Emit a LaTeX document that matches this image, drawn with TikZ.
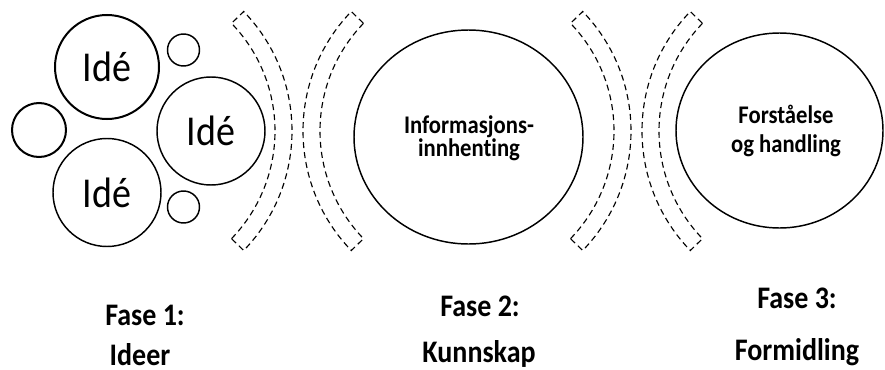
\documentclass[tikz,border=0pt]{standalone}
\usepackage{fontspec}
\setmainfont{Carlito}[Ligatures=NoCommon]
\usetikzlibrary{shapes.geometric}
\newcommand\tall[1]{\scalebox{1}[1.12]{#1}}
\tikzset{
  idea/.style={circle,draw,line width=1.1pt,minimum size=81pt,inner sep=0pt,font=\fontsize{28.5}{30}\selectfont},
  bubble/.style={circle,draw,line width=1.1pt,inner sep=0pt},
  phase/.style={ellipse,draw,line width=1.1pt,inner sep=0pt},
  phasetext/.style={align=center,inner sep=0pt,font=\fontsize{17}{#1}\selectfont\bfseries},
  bandline/.style={line width=0.85pt,dash pattern=on 4.5pt off 3pt},
  lbl/.style={anchor=base,inner sep=0pt,font=\fontsize{21}{24}\selectfont\bfseries}
}
\begin{document}
\begin{tikzpicture}[x=0.75pt,y=0.75pt]
  \useasboundingbox (0,0) rectangle (885,369);
  \node[idea,minimum size=78pt,line width=1.5pt] (ide1) at (107,302) {\tall{Idé}};
  \node[idea] (ide2) at (211,238) {\tall{Idé}};
  \node[idea] (ide3) at (107,176.5) {\tall{Idé}};
  \node[bubble,minimum size=40.5pt,line width=1.5pt] (b1) at (39,239) {};
  \node[bubble,minimum size=24pt] (b2) at (183.5,319) {};
  \node[bubble,minimum size=24pt] (b3) at (183.5,162) {};
  \foreach \cx/\a in {120/0,475/180,459/0,814/180}
    \draw[bandline] (\cx,238) ++({\a-44}:155) arc[start angle=\a-44,end angle=\a+44,radius=155]
      -- ++({\a+44}:17) arc[start angle=\a+44,end angle=\a-44,radius=172] -- cycle;
  \node[phase,minimum width=171.75pt,minimum height=160.5pt] (info) at (468.5,232) {};
  \node[phasetext=17.5] (infotxt) at (469,231) {\tall{Informasjons-}\\\tall{innhenting}};
  \node[phase,minimum width=155.25pt,minimum height=146.25pt] (forst) at (779.5,238.5) {};
  \node[phasetext=22] (forsttxt) at (786,238) {\tall{Forståelse}\\\tall{og handling}};
  \node[lbl] (fase1) at (145,44) {\tall{Fase 1:}};
  \node[lbl] (ideer) at (140,4) {\tall{Ideer}};
  \node[lbl] (fase2) at (480,53) {\tall{Fase 2:}};
  \node[lbl] (kunn) at (479,7) {\tall{Kunnskap}};
  \node[lbl] (fase3) at (797,61) {\tall{Fase 3:}};
  \node[lbl] (form) at (797,9) {\tall{Formidling}};
\end{tikzpicture}
\end{document}
